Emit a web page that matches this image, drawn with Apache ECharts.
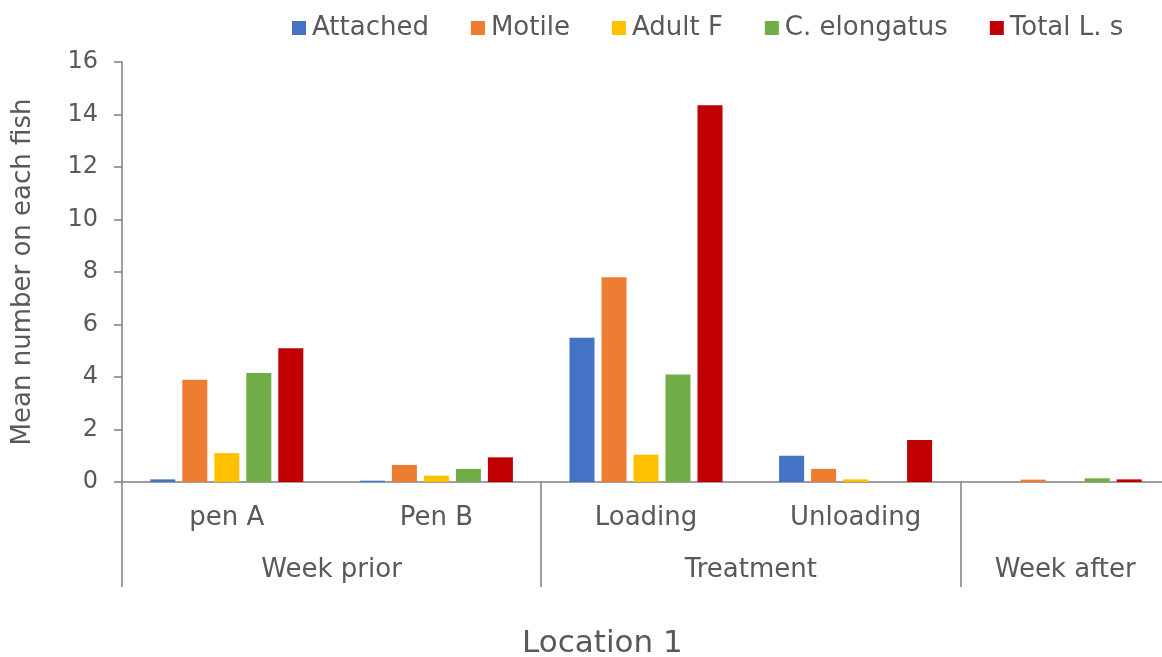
<!DOCTYPE html>
<html>
<head>
<meta charset="utf-8">
<script src="https://cdn.jsdelivr.net/npm/echarts@6/dist/echarts.min.js"></script>
<style>
  html, body { margin: 0; padding: 0; background: #fff; }
  #chart { width: 1162px; height: 657px; }
</style>
</head>
<body>
<div id="chart"></div>
<script>
// data
var categories = ['pen A', 'Pen B', 'Loading', 'Unloading', ''];
var groups = ['Week prior', 'Treatment', 'Week after'];
var groupCenters = [1, 3, 4.5];     // in category units
var groupBounds = [0, 2, 4];        // separators between groups

var attached    = [0.10, 0.05, 5.50, 1.00, 0];
var motile      = [3.90, 0.65, 7.80, 0.50, 0.09];
var adultF      = [1.10, 0.24, 1.04, 0.10, 0];
var elongatus   = [4.15, 0.50, 4.10, 0,    0.14];
var totalLs     = [5.10, 0.94, 14.35, 1.60, 0.10];

var yTicks = [0, 2, 4, 6, 8, 10, 12, 14, 16];

var textColor = '#595959';
var lineColor = '#808080';
var font = 'DejaVu Sans';

var chart = echarts.init(document.getElementById('chart'));

function bar(name, data, color) {
	return {
		name: name,
		type: 'bar',
		data: data,
		itemStyle: { color: color },
		barGap: '28%',
		barCategoryGap: '27%',
		xAxisIndex: 0
	};
}

var option = {
	animation: false,
	textStyle: { fontFamily: font },
	title: {
		text: 'Location 1',
		left: 517,
		top: 623,
		textStyle: { fontFamily: font, fontSize: 31, fontWeight: 'normal', color: textColor }
	},
	legend: {
		top: 10,
		left: 287,
		itemWidth: 14,
		itemHeight: 14,
		itemGap: 42,
		icon: 'rect',
		textStyle: { fontFamily: font, fontSize: 26, color: textColor, padding: [0, 0, 0, 1] },
		data: ['Attached', 'Motile', 'Adult F', 'C. elongatus', 'Total L. s']
	},
	grid: { left: 122, right: -8, top: 62, bottom: 175, outerBoundsMode: 'none' },
	xAxis: [
		{
			type: 'category',
			data: categories,
			axisLine: { lineStyle: { color: lineColor, width: 1.5 } },
			axisTick: { show: false },
			axisLabel: { fontFamily: font, fontSize: 26, color: textColor, margin: 23, interval: 0 }
		},
		{
			type: 'value',
			min: 0,
			max: 5,
			position: 'bottom',
			axisLine: { show: false },
			splitLine: { show: false },
			axisTick: {
				show: true,
				customValues: groupBounds,
				length: 105,
				lineStyle: { color: lineColor, width: 1.5 }
			},
			axisLabel: {
				customValues: groupCenters,
				margin: 75,
				fontFamily: font,
				fontSize: 26,
				color: textColor,
				formatter: function (v) {
					var i = groupCenters.indexOf(v);
					return i >= 0 ? groups[i] : '';
				}
			}
		}
	],
	yAxis: {
		type: 'value',
		min: yTicks[0],
		max: yTicks[yTicks.length - 1],
		interval: 2,
		name: 'Mean number on each fish',
		nameLocation: 'middle',
		nameGap: 86,
		nameTextStyle: { fontFamily: font, fontSize: 26, color: textColor },
		axisLine: { show: true, lineStyle: { color: lineColor, width: 1.5 } },
		axisTick: { show: true, length: 8, lineStyle: { color: lineColor, width: 1.5 } },
		splitLine: { show: false },
		axisLabel: { fontFamily: font, fontSize: 24, color: textColor, margin: 24 }
	},
	series: [
		bar('Attached', attached, '#4472C4'),
		bar('Motile', motile, '#ED7D31'),
		bar('Adult F', adultF, '#FFC000'),
		bar('C. elongatus', elongatus, '#70AD47'),
		bar('Total L. s', totalLs, '#C00000')
	]
};
chart.setOption(option);
</script>
</body>
</html>
